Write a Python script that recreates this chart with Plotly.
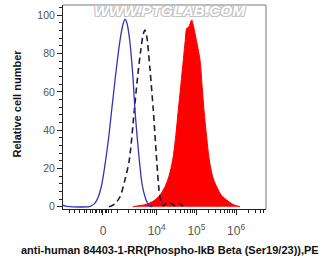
import plotly.graph_objects as go

# ---- data (x in display units: decades of the biexponential axis) ----
blue_x = [1.64, 1.70, 1.80, 2.30, 2.36, 2.45, 2.53, 2.62, 2.715, 2.80, 2.866, 2.95, 3.03, 3.10, 3.16,
          3.20, 3.25, 3.32, 3.40, 3.453, 3.51, 3.562, 3.63, 3.705, 3.77, 3.83, 3.90]
blue_y = [0.8, 0.3, 0, 0, 0.5, 2, 5.2, 12, 24.4, 38, 50.5, 66, 80, 90, 96,
          97.9, 96, 87, 68, 50.5, 36, 24.4, 12, 5.2, 1.8, 0.3, 0]

dash_x = [2.80, 2.866, 2.95, 3.076, 3.20, 3.31, 3.436, 3.52, 3.60, 3.66, 3.705, 3.75, 3.83, 3.914,
          4.0, 4.083, 4.166, 4.22, 4.285, 4.35, 4.42, 4.48, 4.56, 4.62, 4.68]
dash_y = [0, 0.5, 1.5, 5.2, 14, 24.4, 50.5, 68, 82, 90, 92.3, 89, 72, 50.5,
          24.4, 5.2, 0.5, 1.5, 2.5, 2, 0.8, 0.5, 1.8, 1.0, 0]

red_x = [3.40, 3.453, 3.58, 3.705, 3.83, 3.957, 4.08, 4.209, 4.31, 4.403, 4.48, 4.544, 4.61, 4.670,
         4.72, 4.756, 4.79, 4.83, 4.882, 4.93, 4.99, 5.091, 5.14, 5.191, 5.26, 5.325, 5.42, 5.511,
         5.63, 5.763, 5.92, 6.098]
red_y = [0, 0.2, 0.6, 1, 2, 3.5, 6, 10.4, 16, 24.4, 37, 50.5, 64, 76.6,
         87, 93.2, 93.5, 95, 97.6, 94, 88, 76.6, 64, 50.5, 36, 24.4, 15, 10.4,
         6, 3.5, 1.2, 0]

x_tick_vals = [2.647, 4, 5, 6]
x_tick_text = ["0", "10<sup>4</sup>", "10<sup>5</sup>", "10<sup>6</sup>"]
x_minor_vals = [1.791, 1.942, 2.068, 2.169, 2.244, 2.320, 2.395, 2.446, 2.496, 2.547, 2.597,
                2.698, 2.748, 2.798, 2.874, 3.0,
                3.301, 3.477, 3.602, 3.699, 3.778, 3.845, 3.903, 3.954,
                4.301, 4.477, 4.602, 4.699, 4.778, 4.845, 4.903, 4.954,
                5.301, 5.477, 5.602, 5.699, 5.778, 5.845, 5.903, 5.954,
                6.301, 6.477, 6.602, 6.699]
y_tick_vals = [0, 20, 40, 60, 80, 100]

FONT = "Liberation Sans, Arial, sans-serif"

fig = go.Figure()
fig.add_trace(go.Scatter(x=red_x, y=red_y, mode="lines", fill="tozeroy",
                         fillcolor="#ff0000", line=dict(color="#ff0000", width=1, shape="spline", smoothing=0.8),
                         hoverinfo="skip"))
fig.add_trace(go.Scatter(x=dash_x, y=dash_y, mode="lines",
                         line=dict(color="#1c1c3c", width=1.6, dash="6px,4px", shape="spline", smoothing=0.8),
                         hoverinfo="skip"))
fig.add_trace(go.Scatter(x=blue_x, y=blue_y, mode="lines",
                         line=dict(color="#2e36b4", width=1.3, shape="spline", smoothing=0.8),
                         hoverinfo="skip"))

fig.update_layout(
    template="none",
    width=326, height=262,
    margin=dict(l=63, r=60, t=5, b=53, autoexpand=False),
    paper_bgcolor="white", plot_bgcolor="white",
    showlegend=False,
    font=dict(family=FONT, color="#444", size=10),
    xaxis=dict(range=[1.64, 6.753], showgrid=False, zeroline=False, automargin=False,
               showline=True, linecolor="#222", linewidth=1,
               tickmode="array", tickvals=x_tick_vals, ticktext=x_tick_text,
               ticks="outside", ticklen=5, tickcolor="#222", tickwidth=1,
               ticklabelstandoff=6,
               tickfont=dict(size=12, color="#555"),
               minor=dict(tickmode="array", tickvals=x_minor_vals, ticks="outside",
                          ticklen=3, tickcolor="#222", tickwidth=1, showgrid=False)),
    yaxis=dict(range=[-1.2, 105.4], showgrid=False, zeroline=False, automargin=False,
               showline=True, linecolor="#222", linewidth=1,
               tickmode="array", tickvals=y_tick_vals,
               ticks="outside", ticklen=5, tickcolor="#222", tickwidth=1,
               tickfont=dict(size=10.5, color="#555"),
               minor=dict(dtick=4, ticks="outside", ticklen=3, tickcolor="#222", tickwidth=1, showgrid=False)),
    shapes=[
        dict(type="line", xref="paper", yref="paper", x0=0, x1=1, y0=1, y1=1,
             line=dict(color="#777", width=1)),
        dict(type="line", xref="paper", yref="paper", x0=1, x1=1, y0=0, y1=1,
             line=dict(color="#777", width=1)),
    ],
    annotations=[
        dict(text="WWW.PTGLAB.COM", xref="paper", yref="paper", x=0.527, y=0.975,
             showarrow=False, xanchor="center", yanchor="middle",
             font=dict(family=FONT, size=15.5, color="white", weight="bold", style="italic",
                       shadow="-1px -1px 0 #c4c4c4, 1px -1px 0 #c4c4c4, -1px 1px 0 #c4c4c4, 1px 1px 0 #c4c4c4")),
        dict(text="<b>Relative cell number</b>", xref="paper", yref="paper", x=-0.227, y=0.517,
             showarrow=False, textangle=-90, xanchor="center", yanchor="middle",
             font=dict(family=FONT, size=11, color="#111")),
        dict(text="<b>anti-human 84403-1-RR(Phospho-IkB Beta (Ser19/23)),PE</b>", xref="paper", yref="paper",
             x=0.527, y=-0.2, showarrow=False, xanchor="center", yanchor="middle",
             font=dict(family=FONT, size=11, color="#111")),
    ],
)

fig.write_html("out.html", config={"displayModeBar": False},
               post_script="document.body.style.margin='0';")
